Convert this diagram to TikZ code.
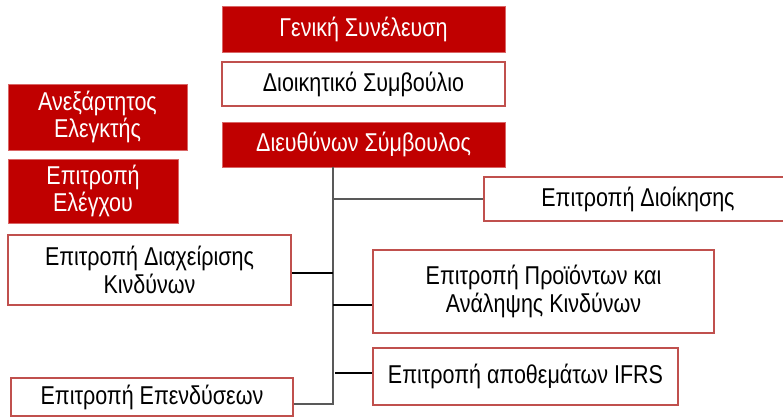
\documentclass[tikz,border=0pt]{standalone}
\usepackage{fontspec}
\setmainfont{Liberation Sans}
\definecolor{boardred}{HTML}{C00000}
\definecolor{edgered}{HTML}{C0504D}
\definecolor{linegray}{HTML}{595959}
\newcommand{\tallt}[1]{\scalebox{1}[1.2]{#1}}

\begin{document}
\begin{tikzpicture}[x=1pt, y=-1pt,
    redbox/.style={fill=boardred, draw=boardred!60!white, line width=0.8pt, text=white,
        align=center, inner sep=0pt, font=\fontsize{21.5}{27}\selectfont},
    whitebox/.style={fill=white, draw=edgered, line width=2pt, text=black,
        align=center, inner sep=0pt, font=\fontsize{21.5}{28}\selectfont},
    branch/.style={line width=1.6pt, black},
    thinbranch/.style={line width=1.2pt, linegray}]

        \useasboundingbox (0,0) rectangle (783,416);

        \node[redbox, minimum width=283pt, minimum height=46pt] (gs) at (363.5,29) {\tallt{Γενική Συνέλευση}};
        \node[whitebox, minimum width=283pt, minimum height=44pt] (bod) at (363.5,84) {\tallt{Διοικητικό Συμβούλιο}};
        \node[redbox, minimum width=283pt, minimum height=45pt] (ceo) at (363.5,144.5) {\tallt{Διευθύνων Σύμβουλος}};

        \node[redbox, minimum width=179pt, minimum height=66pt] (auditor) at (97.5,117) {\tallt{Ανεξάρτητος}\\\tallt{Ελεγκτής}};
        \node[redbox, minimum width=170pt, minimum height=64pt] (audit) at (93,191) {\tallt{Επιτροπή}\\\tallt{Ελέγχου}};

        \node[whitebox, minimum width=311pt, minimum height=44pt, anchor=west] (exec) at (483,199) {\hspace{-3pt}\tallt{Επιτροπή Διοίκησης}};
        \node[whitebox, minimum width=283pt, minimum height=70pt] (risk) at (149.5,270) {\tallt{Επιτροπή Διαχείρισης}\\\tallt{Κινδύνων}};
        \node[whitebox, minimum width=341pt, minimum height=83pt] (prod) at (543.5,291.5) {\tallt{Επιτροπή Προϊόντων και}\\\tallt{Ανάληψης Κινδύνων}};
        \node[whitebox, minimum width=305pt, minimum height=57pt] (ifrs) at (525.5,376.5) {\tallt{Επιτροπή αποθεμάτων IFRS}};
        \node[whitebox, minimum width=282pt, minimum height=38pt, anchor=north] (invest) at (152,377) {\tallt{Επιτροπή Επενδύσεων}};

        \coordinate (top) at (333,167);
        \coordinate (bot) at (333,404);
        \coordinate (bprod) at (333,305);
        \coordinate (bifrs) at (335,373);

        \draw[thinbranch] (top) -- (bot) -- (bot -| invest.east);
        \draw[thinbranch] (top |- exec.west) -- (exec.west);
        \draw[branch] (risk.east |- 0,273) -- (top |- 0,273);
        \draw[branch] (bprod) -- (bprod -| prod.west);
        \draw[branch] (bifrs) -- (bifrs -| ifrs.west);

    \end{tikzpicture}
\end{document}
